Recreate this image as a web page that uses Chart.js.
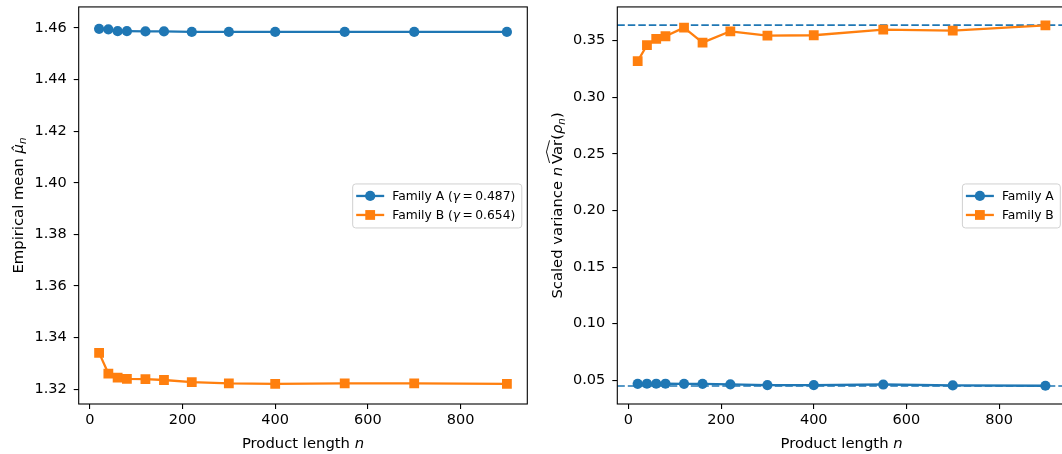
<!DOCTYPE html>
<html>
<head>
<meta charset="utf-8">
<script src="https://cdn.jsdelivr.net/npm/chart.js@4.4.1/dist/chart.umd.min.js"></script>
<style>
  html, body { margin: 0; padding: 0; background: #fff; overflow: hidden; }
  #wrap { position: relative; width: 1062px; height: 454px; overflow: hidden; }
  canvas { position: absolute; top: 0; }
  #meanChart { left: 0; }
  #varChart { left: 540px; }
</style>
</head>
<body>
<div id="wrap">
  <canvas id="meanChart" width="540" height="454"></canvas>
  <canvas id="varChart" width="540" height="454"></canvas>
</div>
<script>
// product lengths n
const nValues = [20, 40, 60, 80, 120, 160, 220, 300, 400, 550, 700, 900];

// left panel: empirical mean
const meanFamilyA = [1.4596, 1.4594, 1.4587, 1.4587, 1.4586, 1.4586, 1.4584, 1.4584, 1.4584, 1.4584, 1.4584, 1.4584];
const meanFamilyB = [1.3341, 1.3261, 1.3245, 1.3240, 1.3239, 1.3236, 1.3228, 1.3223, 1.3221, 1.3223, 1.3223, 1.3221];

// right panel: scaled variance
const varFamilyA = [0.0469, 0.0470, 0.0470, 0.0470, 0.0469, 0.0469, 0.0465, 0.0458, 0.0458, 0.0463, 0.0455, 0.0452];
const varFamilyB = [0.3319, 0.3459, 0.3515, 0.3538, 0.3614, 0.3482, 0.3582, 0.3544, 0.3547, 0.3596, 0.3588, 0.3635];
const varLimitA = 0.0450;
const varLimitB = 0.3636;

const gammaA = '0.487';
const gammaB = '0.654';

// tick labels
const nTicks = [0, 200, 400, 600, 800];
const meanTicks = [1.32, 1.34, 1.36, 1.38, 1.40, 1.42, 1.44, 1.46];
const varTicks = [0.05, 0.10, 0.15, 0.20, 0.25, 0.30, 0.35];

const BLUE = '#1f77b4';
const ORANGE = '#ff7f0e';
const FONT = '"DejaVu Sans"';
const TICK_SIZE = 14.5;
const TITLE_SIZE = 14.8;
const LEGEND_SIZE = 12.3;
const CIRCLE_R = 5.1;
const SQUARE_HALF = 4.9;

Chart.defaults.font.family = FONT;
Chart.defaults.color = '#000';

function fontFor(p, size) {
  const s = p.sub ? size * 0.7 : size;
  return (p.it ? 'italic ' : '') + s + 'px ' + FONT;
}

function richWidth(ctx, parts, size) {
  let w = 0;
  parts.forEach(p => { ctx.font = fontFor(p, size); w += ctx.measureText(p.t).width; });
  return w;
}

// draws a line of text made of plain / italic / subscript pieces, y is the baseline
function drawRich(ctx, parts, x, y, size, align) {
  const total = richWidth(ctx, parts, size);
  let cx = align === 'center' ? x - total / 2 : x;
  ctx.textAlign = 'left';
  ctx.textBaseline = 'alphabetic';
  ctx.fillStyle = '#000';
  parts.forEach(p => {
    ctx.font = fontFor(p, size);
    const w = ctx.measureText(p.t).width;
    ctx.fillText(p.t, cx, y + (p.sub ? size * 0.22 : 0));
    if (p.hat) {
      ctx.save();
      ctx.strokeStyle = '#000';
      ctx.lineWidth = 0.9;
      ctx.beginPath();
      ctx.moveTo(cx + 1, y - size * 0.84);
      ctx.lineTo(cx + w / 2, y - size * 1.05);
      ctx.lineTo(cx + w - 0.5, y - size * 0.84);
      ctx.stroke();
      ctx.restore();
    }
    cx += w;
  });
}

function drawMarker(ctx, style, x, y, color) {
  ctx.fillStyle = color;
  if (style === 'rect') {
    ctx.fillRect(x - SQUARE_HALF, y - SQUARE_HALF, SQUARE_HALF * 2, SQUARE_HALF * 2);
  } else {
    ctx.beginPath();
    ctx.arc(x, y, CIRCLE_R, 0, Math.PI * 2);
    ctx.fill();
  }
}

function makeDecor(conf) {
  return {
    id: 'decor',
    beforeDatasetsDraw(chart) {
      const { ctx, chartArea: a, scales: { y } } = chart;
      (conf.refLines || []).forEach(v => {
        const py = y.getPixelForValue(v);
        ctx.save();
        ctx.strokeStyle = BLUE;
        ctx.lineWidth = 1.7;
        ctx.setLineDash([7.5, 3]);
        ctx.beginPath();
        ctx.moveTo(a.left, py);
        ctx.lineTo(a.right, py);
        ctx.stroke();
        ctx.restore();
      });
    },
    afterDraw(chart) {
      const { ctx, chartArea: a } = chart;
      ctx.save();
      // axes frame
      ctx.strokeStyle = '#000';
      ctx.lineWidth = 1.1;
      ctx.strokeRect(a.left, a.top, a.right - a.left, a.bottom - a.top);

      // axis titles
      drawRich(ctx, [{ t: 'Product length ' }, { t: 'n', it: true }], (a.left + a.right) / 2, 448, TITLE_SIZE, 'center');
      ctx.save();
      ctx.translate(conf.yTitleX, (a.top + a.bottom) / 2);
      ctx.rotate(-Math.PI / 2);
      drawRich(ctx, conf.yTitle, 0, 0, TITLE_SIZE, 'center');
      ctx.restore();

      // legend
      const textW = Math.max(...conf.legend.map(it => richWidth(ctx, it.parts, LEGEND_SIZE)));
      const w = 40 + textW + 6, h = 44;
      const x0 = a.right - 6 - w;
      const y0 = (a.top + a.bottom) / 2 - h / 2;
      ctx.beginPath();
      ctx.roundRect(x0 + 0.5, y0 + 0.5, w, h, 3);
      ctx.fillStyle = 'rgba(255,255,255,0.8)';
      ctx.fill();
      ctx.strokeStyle = '#d0d0d0';
      ctx.lineWidth = 1;
      ctx.stroke();
      conf.legend.forEach((it, i) => {
        const ry = y0 + 12.5 + i * 19;
        ctx.strokeStyle = it.color;
        ctx.lineWidth = 2.3;
        ctx.beginPath();
        ctx.moveTo(x0 + 4, ry);
        ctx.lineTo(x0 + 32, ry);
        ctx.stroke();
        drawMarker(ctx, it.marker, x0 + 18, ry, it.color);
        drawRich(ctx, it.parts, x0 + 40, ry + 4.4, LEGEND_SIZE, 'left');
      });
      ctx.restore();
    }
  };
}

function series(label, ys, color, style) {
  // chart.js 'rect' half-side = radius * SQRT1_2
  const r = style === 'rect' ? SQUARE_HALF / Math.SQRT1_2 : CIRCLE_R;
  return {
    label: label,
    data: nValues.map((n, i) => ({ x: n, y: ys[i] })),
    borderColor: color,
    backgroundColor: color,
    borderWidth: 2.3,
    borderJoinStyle: 'round',
    pointStyle: style,
    pointRadius: r,
    pointHoverRadius: r,
    pointBorderWidth: 0,
    tension: 0
  };
}

function axisGrid() {
  return { display: true, drawOnChartArea: false, drawTicks: true, tickLength: 5, color: '#000', lineWidth: 1.1 };
}

function buildChart(id, opts) {
  return new Chart(document.getElementById(id), {
    type: 'line',
    data: { datasets: opts.datasets },
    options: {
      responsive: false,
      animation: false,
      devicePixelRatio: 1,
      events: [],
      layout: { padding: { left: 0, right: opts.padRight, top: 6, bottom: 0 } },
      plugins: { legend: { display: false }, tooltip: { enabled: false } },
      scales: {
        x: {
          type: 'linear',
          min: -24,
          max: 944,
          afterBuildTicks: s => { s.ticks = nTicks.map(v => ({ value: v })); },
          afterFit: s => { s.height = 50; s.paddingLeft = 0; s.paddingRight = 0; },
          grid: axisGrid(),
          border: { display: false },
          ticks: { color: '#000', font: { size: TICK_SIZE }, padding: 3, maxRotation: 0, callback: v => String(v) }
        },
        y: {
          type: 'linear',
          min: opts.yMin,
          max: opts.yMax,
          afterBuildTicks: s => { s.ticks = opts.yTicks.map(v => ({ value: v })); },
          afterFit: s => { s.width = opts.yWidth; s.paddingTop = 0; s.paddingBottom = 0; },
          grid: axisGrid(),
          border: { display: false },
          ticks: { color: '#000', font: { size: TICK_SIZE }, padding: 7, callback: v => v.toFixed(2) }
        }
      }
    },
    plugins: [makeDecor(opts.decor)]
  });
}

buildChart('meanChart', {
  datasets: [
    series('Family A', meanFamilyA, BLUE, 'circle'),
    series('Family B', meanFamilyB, ORANGE, 'rect')
  ],
  yMin: 1.3143, yMax: 1.4681, yTicks: meanTicks, yWidth: 78.7, padRight: 12.7,
  decor: {
    yTitleX: 23,
    yTitle: [{ t: 'Empirical mean ' }, { t: 'μ\u0302', it: true }, { t: 'n', it: true, sub: true }],
    legend: [
      { color: BLUE, marker: 'circle', parts: [{ t: 'Family A (' }, { t: 'γ', it: true }, { t: '\u2009=\u2009' + gammaA + ')' }] },
      { color: ORANGE, marker: 'rect', parts: [{ t: 'Family B (' }, { t: 'γ', it: true }, { t: '\u2009=\u2009' + gammaB + ')' }] }
    ]
  }
});

buildChart('varChart', {
  datasets: [
    series('Family A', varFamilyA, BLUE, 'circle'),
    series('Family B', varFamilyB, ORANGE, 'rect')
  ],
  yMin: 0.0291, yMax: 0.3797, yTicks: varTicks, yWidth: 77.3, padRight: 14.2,
  decor: {
    yTitleX: 22,
    refLines: [varLimitA, varLimitB],
    yTitle: [
      { t: 'Scaled variance ' }, { t: 'n', it: true }, { t: '\u2009' }, { t: 'Var', hat: true },
      { t: '(' }, { t: 'ρ', it: true }, { t: 'n', it: true, sub: true }, { t: ')' }
    ],
    legend: [
      { color: BLUE, marker: 'circle', parts: [{ t: 'Family A' }] },
      { color: ORANGE, marker: 'rect', parts: [{ t: 'Family B' }] }
    ]
  }
});
</script>
</body>
</html>
